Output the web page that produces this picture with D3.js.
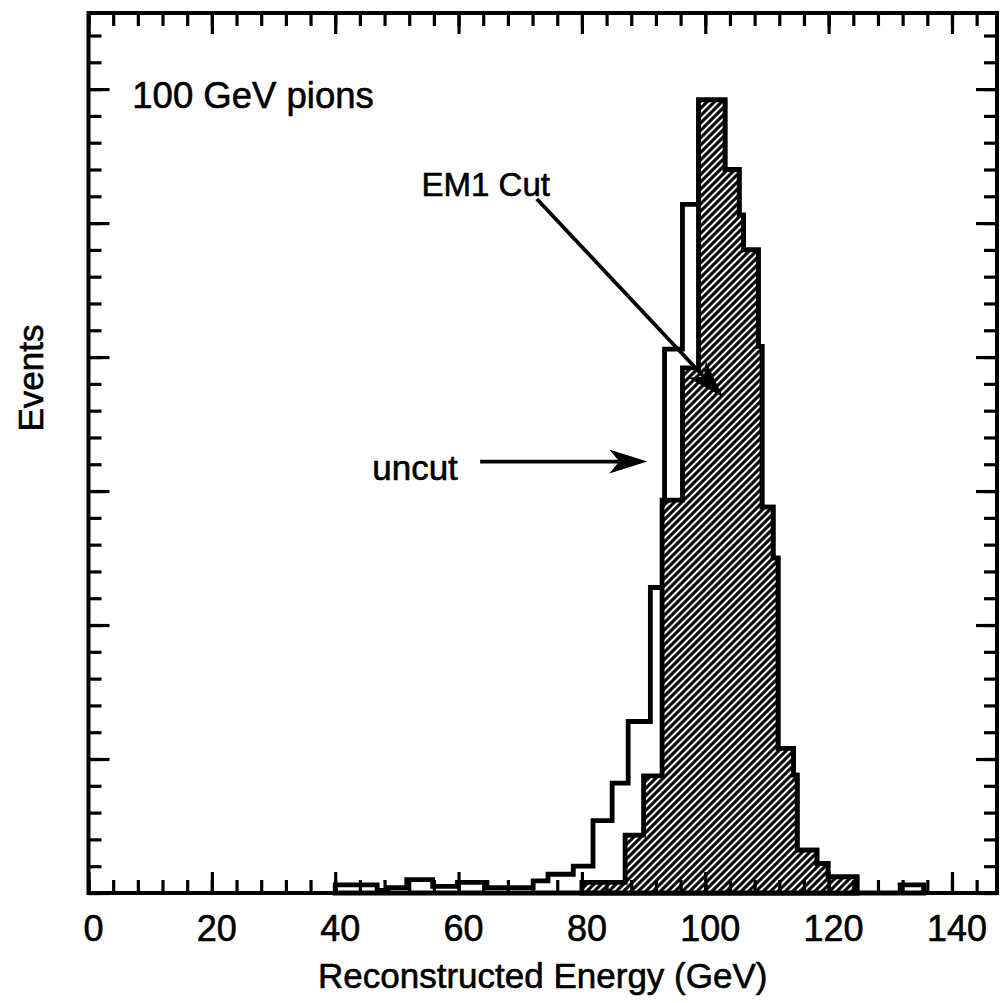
<!DOCTYPE html>
<html>
<head>
<meta charset="utf-8">
<script src="https://cdn.jsdelivr.net/npm/d3@7"></script>
<style>
  html, body { margin: 0; padding: 0; background: #fff; }
  svg { display: block; }
  text { font-family: "Liberation Sans", Arial, Helvetica, sans-serif; fill: #000; stroke: #000; stroke-width: 0.6px; }
</style>
</head>
<body>
<svg id="chart" width="1002" height="1003"></svg>
<script>
// ---- data ----
const xMajorTicks = [0, 20, 40, 60, 80, 100, 120, 140];
const xMinorTicks = d3.range(0, 147, 4);
const yMajorTicks = [0, 50, 100, 150, 200, 250, 300];
const yMinorTicks = d3.range(0, 330, 10);

// uncut histogram: bin edges (GeV) and counts
const uncutEdges = [40.0, 46.8, 48.6, 51.6, 55.8, 59.8, 64.6, 72.1, 74.5, 78.6, 81.8, 84.9, 87.5, 91.1, 93.4, 96.3, 98.9, 103.2, 105.5, 106.2, 108.6, 109.2, 111.0, 111.8, 114.3, 114.9, 118.1, 119.9, 124.6, 131.6, 135.4];
const uncutCounts = [3, 1, 2, 5, 2.5, 4, 2, 4.5, 7, 10, 27, 41, 64, 114, 203, 257, 296, 270, 253, 240, 204, 144, 125, 54, 44, 16, 11, 6, 0, 3];

// EM1 cut histogram
const cutEdges = [80.0, 87.0, 90.0, 93.0, 96.3, 98.9, 103.2, 105.5, 106.2, 108.6, 109.2, 111.0, 111.8, 114.3, 114.9, 118.1, 119.9, 124.6];
const cutCounts = [4, 21.6, 43.7, 146.6, 196, 296, 270, 253, 240, 204, 144, 125, 54, 44, 16, 11, 6];

// annotations (data coordinates)
const arrowEM1 = [[72.7, 259], [102.9, 185]];
const arrowUncut = [[63.5, 161], [90.6, 161]];
const textLabels = [
  {text: "100 GeV pions", x: 7.1, y: 293, size: 36.5},
  {text: "EM1 Cut", x: 54.0, y: 260, size: 33},
  {text: "uncut", x: 46.0, y: 154, size: 35}
];

const xDomain = [0, 147.3];
const yDomain = [0, 328.4];

// ---- drawing ----
const svg = d3.select("#chart");
const L = 88.5, R = 997, T = 13, B = 893;
const x = d3.scaleLinear().domain(xDomain).range([L, R]);
const y = d3.scaleLinear().domain(yDomain).range([B, T]);

const defs = svg.append("defs");
const pat = defs.append("pattern")
  .attr("id", "hatch").attr("patternUnits", "userSpaceOnUse")
  .attr("width", 5.2).attr("height", 5.2)
  .attr("patternTransform", "rotate(45)");
pat.append("rect").attr("width", 5.2).attr("height", 5.2).attr("fill", "#000");
pat.append("line").attr("x1", 2.6).attr("y1", 0).attr("x2", 2.6).attr("y2", 5.2)
  .attr("stroke", "#fff").attr("stroke-width", 2.1);

function stepPoints(edges, counts) {
  const pts = [[edges[0], 0]];
  counts.forEach((c, i) => { pts.push([edges[i], c]); pts.push([edges[i + 1], c]); });
  pts.push([edges[edges.length - 1], 0]);
  return pts;
}
const line = d3.line().x(d => x(d[0])).y(d => y(d[1]));

svg.append("path").attr("d", line(stepPoints(uncutEdges, uncutCounts)) + "Z")
  .attr("fill", "#fff").attr("stroke", "#000").attr("stroke-width", 4.8)
  .attr("stroke-linejoin", "miter");
svg.append("path").attr("d", line(stepPoints(cutEdges, cutCounts)) + "Z")
  .attr("fill", "url(#hatch)").attr("stroke", "#000").attr("stroke-width", 4.8)
  .attr("stroke-linejoin", "miter");

// axes (ticks inward)
function styleAxis(g) {
  g.select(".domain").remove();
  g.selectAll(".tick line").attr("stroke", "#000").attr("stroke-width", 3.2);
  g.selectAll(".tick text").remove();
}
svg.append("g").attr("transform", `translate(0,${B})`).call(d3.axisBottom(x).tickValues(xMinorTicks).tickSize(-13)).call(styleAxis);
svg.append("g").attr("transform", `translate(0,${B})`).call(d3.axisBottom(x).tickValues(xMajorTicks).tickSize(-21)).call(styleAxis);
svg.append("g").attr("transform", `translate(0,${T})`).call(d3.axisTop(x).tickValues(xMinorTicks).tickSize(-13)).call(styleAxis);
svg.append("g").attr("transform", `translate(0,${T})`).call(d3.axisTop(x).tickValues(xMajorTicks).tickSize(-21)).call(styleAxis);
svg.append("g").attr("transform", `translate(${L},0)`).call(d3.axisLeft(y).tickValues(yMinorTicks).tickSize(-13)).call(styleAxis);
svg.append("g").attr("transform", `translate(${L},0)`).call(d3.axisLeft(y).tickValues(yMajorTicks).tickSize(-21)).call(styleAxis);
svg.append("g").attr("transform", `translate(${R},0)`).call(d3.axisRight(y).tickValues(yMinorTicks).tickSize(-13)).call(styleAxis);
svg.append("g").attr("transform", `translate(${R},0)`).call(d3.axisRight(y).tickValues(yMajorTicks).tickSize(-21)).call(styleAxis);

// frame
svg.append("rect").attr("x", L).attr("y", T).attr("width", R - L).attr("height", B - T)
  .attr("fill", "none").attr("stroke", "#000").attr("stroke-width", 4);

// tick labels
svg.append("g").selectAll("text").data(xMajorTicks).join("text")
  .attr("x", d => x(d) + 5).attr("y", B + 48)
  .attr("text-anchor", "middle").attr("font-size", 36)
  .text(d => d);

// axis titles
svg.append("text").attr("x", (L + R) / 2 - 0).attr("y", B + 95)
  .attr("text-anchor", "middle").attr("font-size", 35)
  .text("Reconstructed Energy (GeV)");
svg.append("text").attr("transform", `translate(43,${(T + B) / 2 - 75}) rotate(-90)`)
  .attr("text-anchor", "middle").attr("font-size", 35)
  .text("Events");

// annotation texts
svg.append("g").selectAll("text").data(textLabels).join("text")
  .attr("x", d => x(d.x)).attr("y", d => y(d.y))
  .attr("font-size", d => d.size)
  .text(d => d.text);

// arrows
function arrow(pts) {
  const [p0, p1] = pts;
  const x0 = x(p0[0]), y0 = y(p0[1]), x1 = x(p1[0]), y1 = y(p1[1]);
  const ang = Math.atan2(y1 - y0, x1 - x0);
  const len = Math.hypot(x1 - x0, y1 - y0);
  const g = svg.append("g").attr("transform", `translate(${x0},${y0}) rotate(${ang * 180 / Math.PI})`);
  g.append("line").attr("x1", 0).attr("y1", 0).attr("x2", len - 20).attr("y2", 0)
    .attr("stroke", "#000").attr("stroke-width", 3.8);
  g.append("path").attr("d", `M${len},0 L${len - 38},-12 L${len - 28},0 L${len - 38},12 Z`).attr("fill", "#000");
}
arrow(arrowEM1);
arrow(arrowUncut);
</script>
</body>
</html>
